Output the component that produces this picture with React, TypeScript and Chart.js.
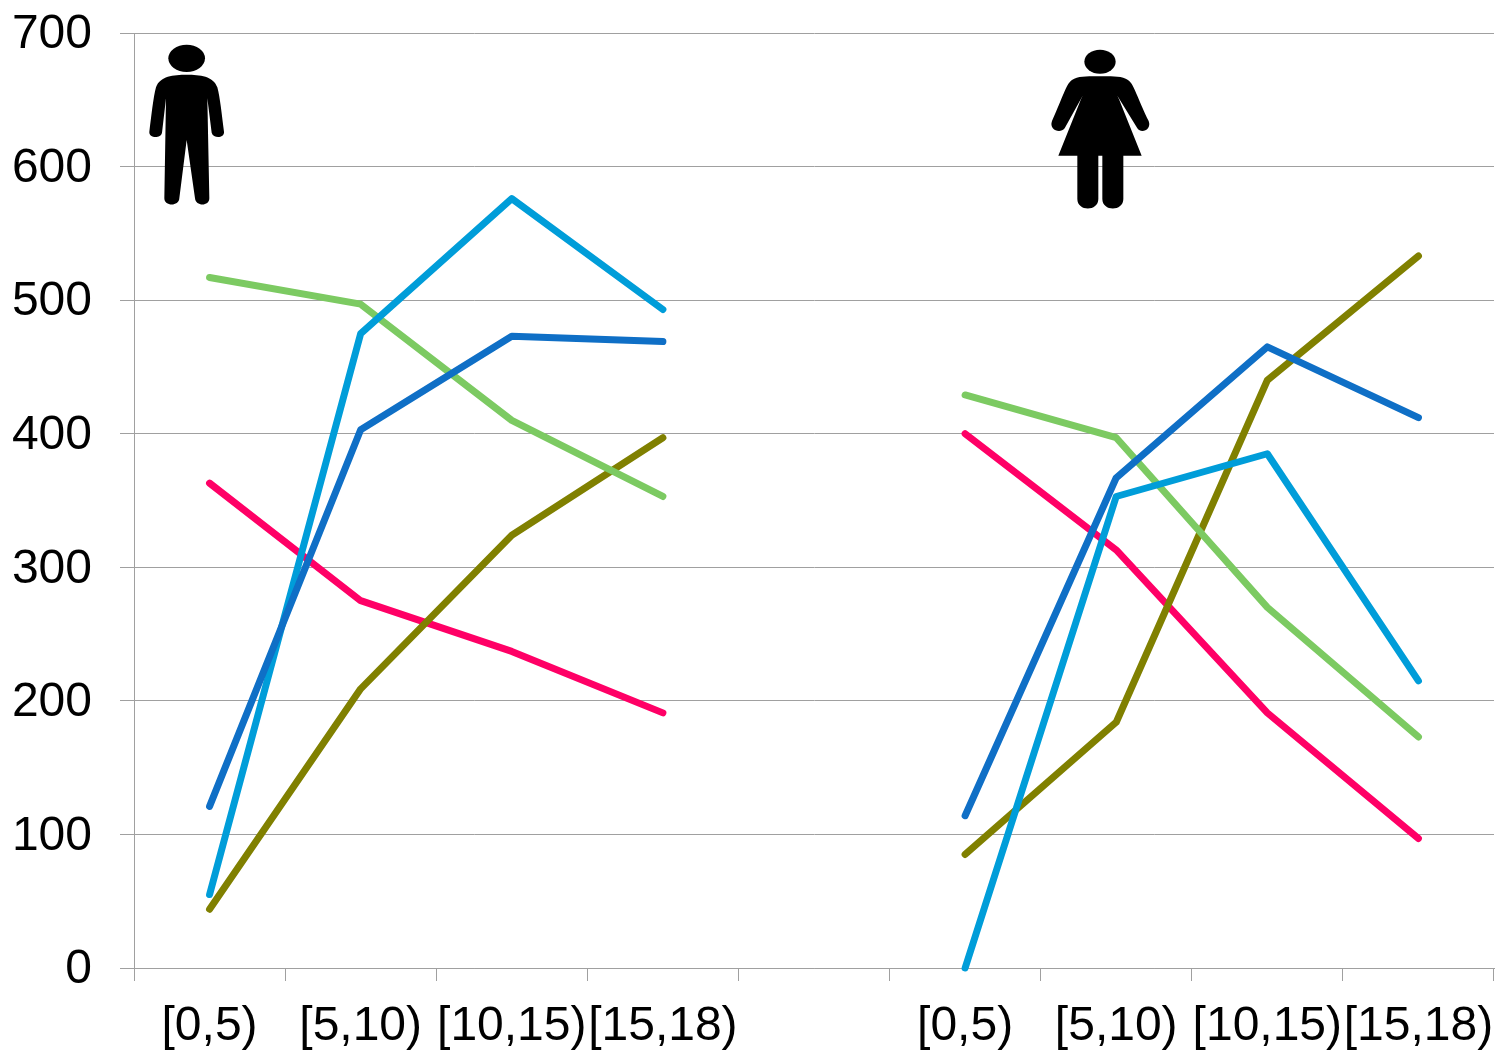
import React, { useEffect, useRef } from "react";
import { Chart, registerables } from "chart.js";

Chart.register(...registerables);

const categories = ["[0,5)", "[5,10)", "[10,15)", "[15,18)", "", "[0,5)", "[5,10)", "[10,15)", "[15,18)"];
const yTicks = [0, 100, 200, 300, 400, 500, 600, 700];

const darkBlue = [121, 403, 473, 469, null, 114, 367, 465, 412];
const lightBlue = [55, 475, 576, 493, null, 0, 353, 385, 215];
const green = [517, 497, 410, 353, null, 429, 397, 270, 173];
const olive = [44, 209, 324, 397, null, 85, 184, 440, 533];
const pink = [363, 275, 237, 191, null, 400, 313, 191, 97];

const seriesColors = ["#0f6fc6", "#009dd9", "#7cca62", "#808000", "#ff0066"];
const allSeries = [darkBlue, lightBlue, green, olive, pink];

const malePath =
  "M170 134 C130 134 90 138 78 172 C70 200 64 260 58 305 C56 325 92 327 96 308 L108 205 L103 505 C103 530 147 530 148 505 L170 330 L195 505 C197 530 238 530 238 505 L232 205 L245 308 C250 327 284 325 282 305 C276 260 270 200 262 172 C250 138 210 134 170 134 Z";
const femalePath =
  "M180 124 C140 124 108 122 90 140 C78 152 60 205 36 258 C26 284 60 298 74 280 L128 182 L122 195 L55 362 L112 362 L112 492 C112 530 175 530 175 492 L175 362 L187 362 L187 492 C187 530 250 530 250 492 L250 362 L305 362 L238 195 L232 182 L292 280 C304 298 336 284 326 258 C300 205 282 152 270 140 C252 122 220 124 180 124 Z";

const iconPlugin = {
  id: "icons",
  afterDatasetsDraw(chart: any) {
    const ctx = chart.ctx;
    const draw = (ox: number, oy: number, path: string, hx: number, hy: number, rx: number, ry: number) => {
      ctx.save();
      ctx.translate(ox, oy);
      ctx.scale(1 / 3, 1 / 3);
      ctx.fillStyle = "#000";
      ctx.fill(new Path2D(path));
      ctx.beginPath();
      ctx.ellipse(hx, hy, rx, ry, 0, 0, Math.PI * 2);
      ctx.fill();
      ctx.restore();
    };
    draw(130, 30, malePath, 170, 85, 55, 41);
    draw(1040, 35, femalePath, 180, 80, 47, 36);
  },
};

export default function App() {
  const ref = useRef<HTMLCanvasElement>(null);
  useEffect(() => {
    const chart = new Chart(ref.current!, {
      type: "line",
      plugins: [iconPlugin],
      data: {
        labels: categories,
        datasets: allSeries.map((data, i) => ({
          data,
          borderColor: seriesColors[i],
          backgroundColor: seriesColors[i],
          borderWidth: 7,
          borderCapStyle: "round",
          borderJoinStyle: "round",
          pointRadius: 0,
          tension: 0,
          fill: false,
          spanGaps: false,
          clip: false,
        })),
      } as any,
      options: {
        responsive: false,
        animation: false,
        layout: { padding: { top: 33, right: 4, left: 0, bottom: 0 } },
        plugins: { legend: { display: false }, tooltip: { enabled: false } },
        scales: {
          x: {
            offset: true,
            border: { color: "#a0a0a0", width: 1 },
            grid: {
              offset: true,
              drawOnChartArea: false,
              drawTicks: true,
              tickLength: 13,
              color: "#a0a0a0",
            },
            ticks: {
              autoSkip: false,
              maxRotation: 0,
              minRotation: 0,
              padding: 17,
              color: "#000",
              font: { family: "'Liberation Sans'", size: 48 },
            },
            afterFit(scale: any) {
              scale.height = 84;
              scale.paddingLeft = 0;
              scale.paddingRight = 0;
            },
          },
          y: {
            min: 0,
            max: 700,
            border: { color: "#a0a0a0", width: 1 },
            grid: { color: "#a0a0a0", lineWidth: 1, tickLength: 14 },
            afterBuildTicks(scale: any) {
              scale.ticks = yTicks.map((value) => ({ value }));
            },
            ticks: {
              padding: 28,
              color: "#000",
              font: { family: "'Liberation Sans'", size: 48 },
            },
            afterFit(scale: any) {
              scale.width = 134;
              scale.paddingTop = 0;
              scale.paddingBottom = 0;
              if (!scale.__shifted) {
                scale.__shifted = true;
                const drawLabels = scale.drawLabels;
                scale.drawLabels = function (area: any) {
                  this.ctx.save();
                  this.ctx.translate(0, 2);
                  drawLabels.call(this, area);
                  this.ctx.restore();
                };
              }
            },
          },
        },
      },
    } as any);
    return () => chart.destroy();
  }, []);
  return (
    <canvas
      ref={ref}
      width={1498}
      height={1052}
      style={{ position: "absolute", left: 0, top: 0, width: 1498, height: 1052, display: "block", background: "#fff" }}
    />
  );
}
